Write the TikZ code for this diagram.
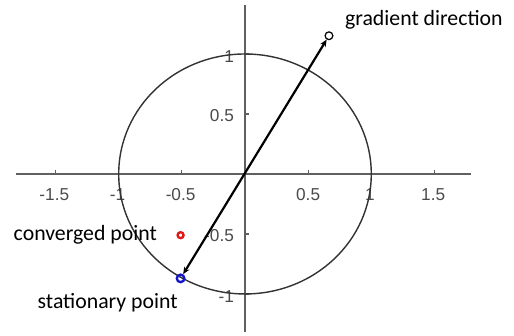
\documentclass[tikz,border=0pt]{standalone}
\usepackage{fontspec}
\usepackage{xcolor}
\usepackage{tikz}
\usetikzlibrary{arrows.meta, positioning}
\newfontfamily\lblfont{Carlito}
\newfontfamily\tickfont{Liberation Sans}
\definecolor{C_AXIS}{HTML}{606060}
\definecolor{C_CIRC}{HTML}{333333}
\definecolor{C_TICK}{HTML}{4A4A4A}
\definecolor{C_CONV}{HTML}{E01818}
\definecolor{C_STAT}{HTML}{1414C8}
\tikzset{
  %% -- axis lines and ticks --
  PL/axis/.style={draw=C_AXIS, line width=0.65pt},
  PL/tick/.style={draw=C_AXIS, line width=0.65pt},
  %% -- tick labels --
  PL/tlbl/.style={font=\tickfont\fontsize{9.8}{11}\selectfont, text=C_TICK, inner sep=0pt},
  %% -- unit circle --
  PL/circ/.style={draw=C_CIRC, line width=0.8pt},
  %% -- point markers --
  PL/grad/.style={circle, draw=black, line width=0.7pt, minimum size=4.4pt, inner sep=0pt},
  PL/conv/.style={circle, draw=C_CONV, line width=1.35pt, minimum size=3.4pt, inner sep=0pt},
  PL/stat/.style={circle, draw=C_STAT, line width=1.35pt, minimum size=4.3pt, inner sep=0pt},
  %% -- gradient arrow --
  PL/arr/.style={{Stealth[length=4pt, width=3.4pt]}-{Stealth[length=4pt, width=3.4pt]}, line width=1.25pt, black},
  %% -- text labels --
  PL/lbl/.style={font=\lblfont\fontsize{12.4}{14}\selectfont, inner sep=0pt},
}

\begin{document}
\begin{tikzpicture}[x=2.526cm, y=2.4cm]

\useasboundingbox (-1.94,-1.342) rectangle (2.13,1.45);

%% ── Axes ───────────────────────────────────────────────────────────────────
\draw[PL/axis] (-1.81,0) -- (1.79,0);
\draw[PL/axis] (0,-1.32) -- (0,1.41);

%% x ticks (pointing up)
\draw[PL/tick] (-1.5,0) -- (-1.5,0.03);
\draw[PL/tick] (-1.0,0) -- (-1.0,0.03);
\draw[PL/tick] (-0.5,0) -- (-0.5,0.03);
\draw[PL/tick] ( 0.5,0) -- ( 0.5,0.03);
\draw[PL/tick] ( 1.0,0) -- ( 1.0,0.03);
\draw[PL/tick] ( 1.5,0) -- ( 1.5,0.03);

%% y ticks (pointing right)
\draw[PL/tick] (0, 1.0) -- (0.028, 1.0);
\draw[PL/tick] (0, 0.5) -- (0.028, 0.5);
\draw[PL/tick] (0,-0.5) -- (0.028,-0.5);
\draw[PL/tick] (0,-1.0) -- (0.028,-1.0);

%% tick labels
\node[PL/tlbl] (xm15) at (-1.51,-0.175) {-1.5};
\node[PL/tlbl] (xm10) at (-1.01,-0.175) {-1};
\node[PL/tlbl] (xm05) at (-0.51,-0.175) {-0.5};
\node[PL/tlbl] (xp05) at ( 0.50,-0.175) {0.5};
\node[PL/tlbl] (xp10) at ( 0.99,-0.175) {1};
\node[PL/tlbl] (xp15) at ( 1.49,-0.175) {1.5};
\node[PL/tlbl, anchor=east] (yp10) at (-0.085, 0.975) {1};
\node[PL/tlbl, anchor=east] (yp05) at (-0.085, 0.49) {0.5};
\node[PL/tlbl, anchor=east] (ym05) at (-0.085,-0.51) {-0.5};
\node[PL/tlbl, anchor=east] (ym10) at (-0.085,-1.02) {-1};

%% ── Unit circle ────────────────────────────────────────────────────────────
\draw[PL/circ] (0,0) circle [x radius=1, y radius=1];

%% ── Points ─────────────────────────────────────────────────────────────────
\node[PL/grad] (grad) at (0.665,1.152) {};
\node[PL/conv] (conv) at (-0.51,-0.51) {};
\node[PL/stat] (stat) at (-0.51,-0.87) {};

%% gradient arrow through the origin
\draw[PL/arr] (stat) -- (grad);

%% ── Labels ─────────────────────────────────────────────────────────────────
\node[PL/lbl, anchor=west] (gradlbl) at (0.79,1.285) {gradient direction};
\node[PL/lbl, anchor=east] (convlbl) at (-0.695,-0.51) {converged point};
\node[PL/lbl, anchor=east] (statlbl) at (-0.53,-1.07) {stationary point};

\end{tikzpicture}
\end{document}
